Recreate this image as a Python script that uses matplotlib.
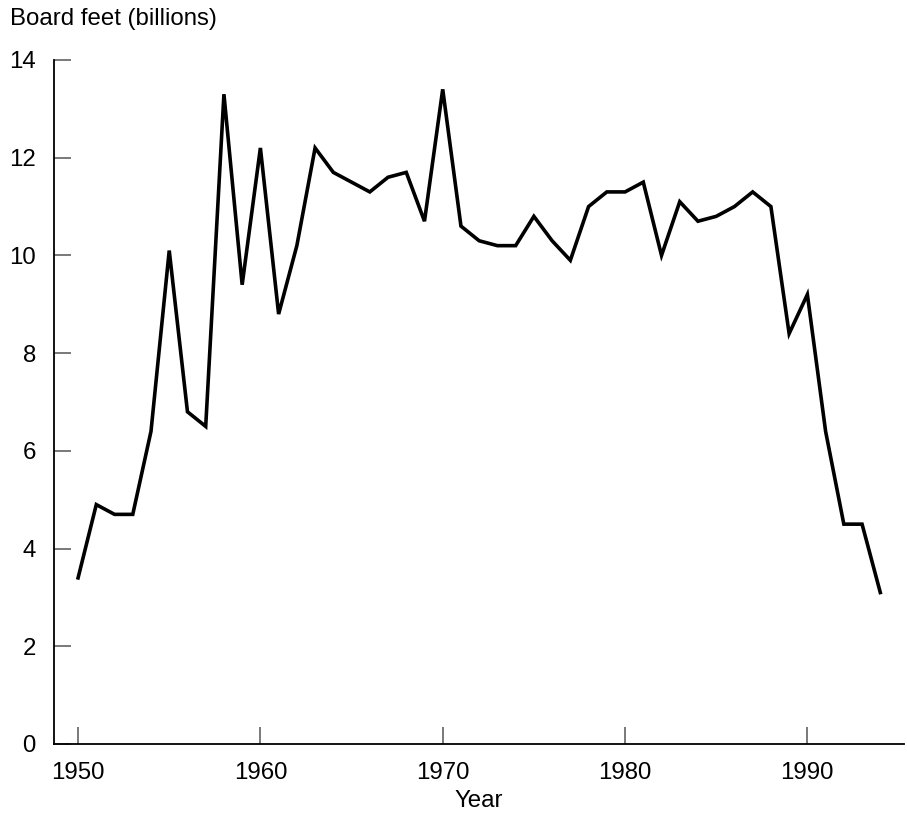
import matplotlib
matplotlib.use("Agg")
import matplotlib.pyplot as plt

# board feet harvested (billions)
years = list(range(1950, 1995))
board_feet = [3.4, 4.9, 4.7, 4.7, 6.4, 10.1, 6.8, 6.5, 13.3, 9.4,
              12.2, 8.8, 10.2, 12.2, 11.7, 11.5, 11.3, 11.6, 11.7, 10.7,
              13.4, 10.6, 10.3, 10.2, 10.2, 10.8, 10.3, 9.9, 11.0, 11.3,
              11.3, 11.5, 10.0, 11.1, 10.7, 10.8, 11.0, 11.3, 11.0, 8.4,
              9.2, 6.4, 4.5, 4.5, 3.1]
x_ticks = [1950, 1960, 1970, 1980, 1990]
y_ticks = [0, 2, 4, 6, 8, 10, 12, 14]

plt.rcParams["font.family"] = ["Liberation Sans", "DejaVu Sans"]
FS = 17.3

fig = plt.figure(figsize=(9.07, 8.17), dpi=100)
ax = fig.add_axes([54/907, 1-744/817, (904-54)/907, (744-60)/817])

ax.plot(years, board_feet, color="black", linewidth=2.6, solid_joinstyle="miter")

ax.set_xlim(1948.68, 1995.3)
ax.set_ylim(0, 14)
ax.set_xticks(x_ticks)
ax.set_yticks(y_ticks)
ax.tick_params(direction="in", length=12, width=1.1, color="#555555",
               labelsize=FS, pad=13)
for side in ("top", "right"):
  ax.spines[side].set_visible(False)
for side in ("left", "bottom"):
  ax.spines[side].set_linewidth(1.3)

fig.text(10/907, 1-19/817, "Board feet (billions)", fontsize=FS,
         ha="left", va="center")
ax.set_xlabel("Year", fontsize=FS, labelpad=4)

fig.savefig("out.png", dpi=100)
